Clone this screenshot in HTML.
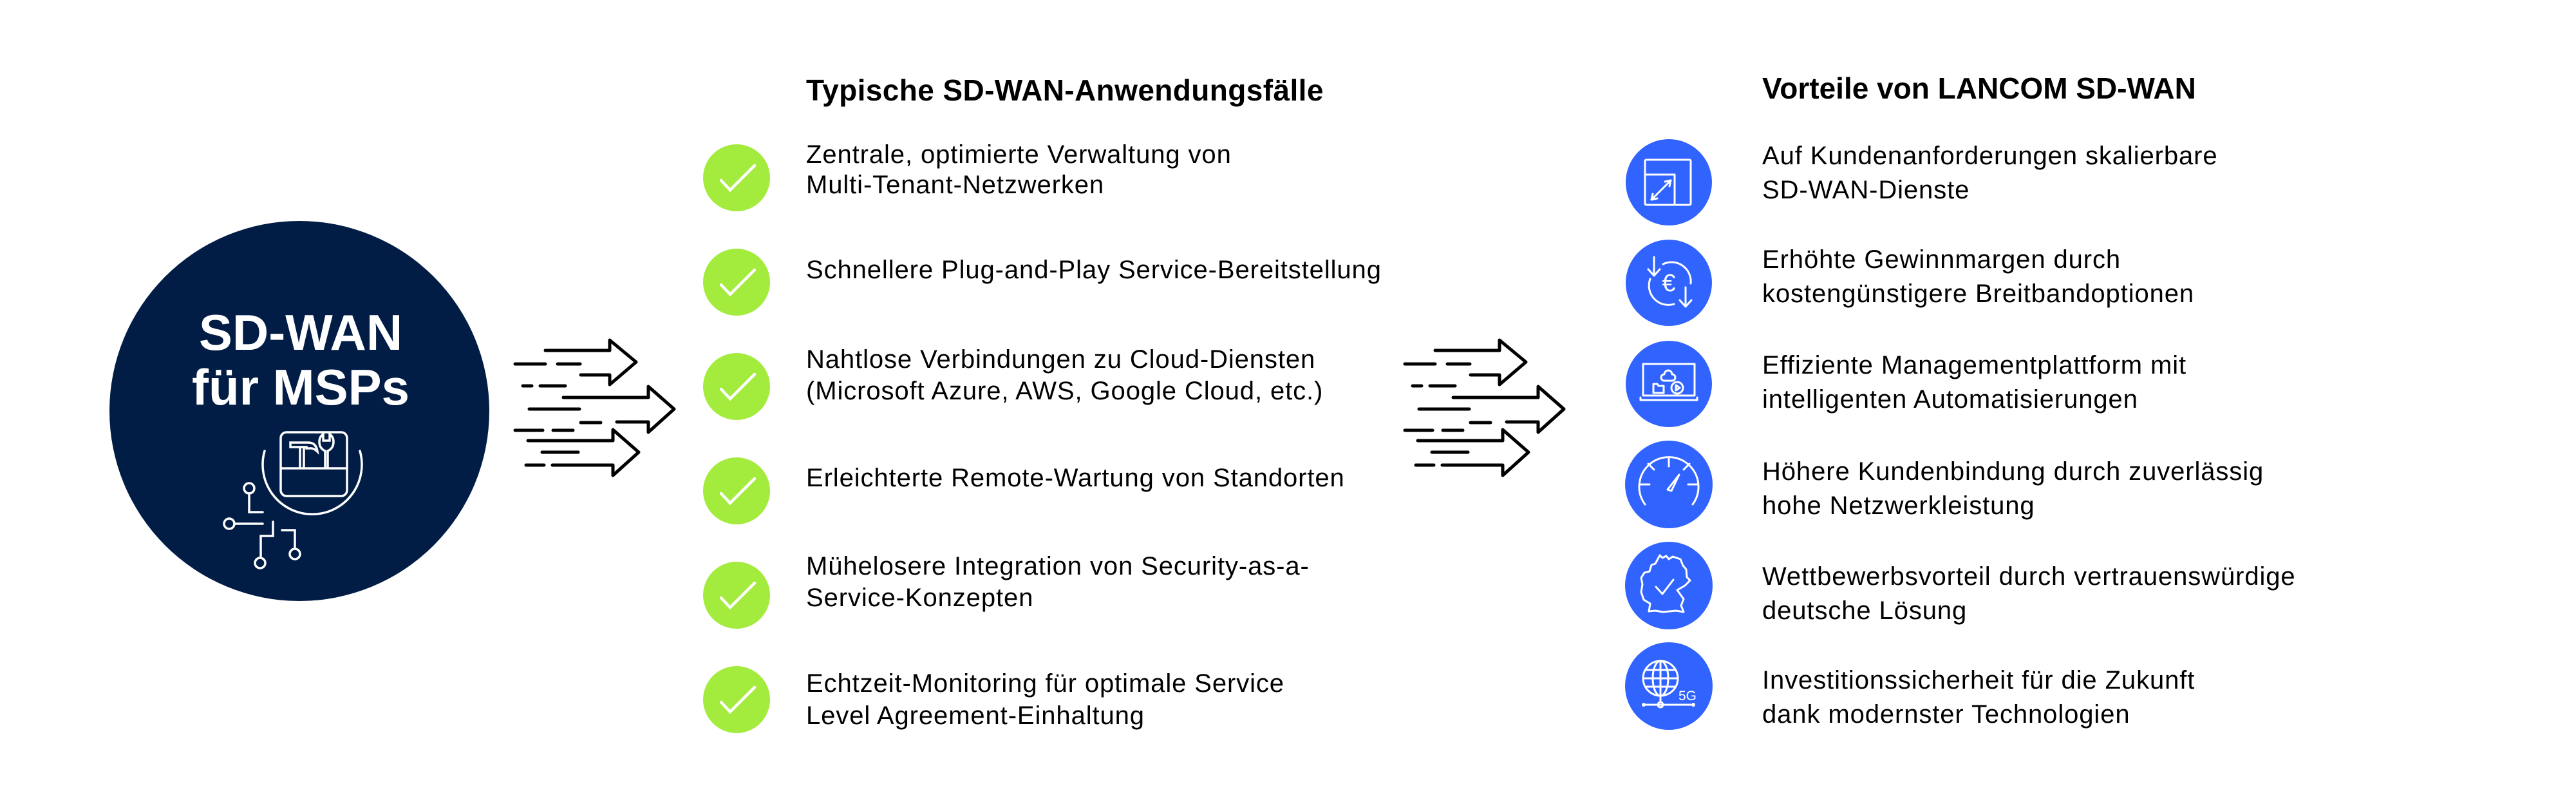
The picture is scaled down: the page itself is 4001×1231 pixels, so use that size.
<!DOCTYPE html>
<html><head><meta charset="utf-8"><style>
html,body{margin:0;padding:0;background:#fff;}
svg{display:block;}
text{font-family:"Liberation Sans",Arial,sans-serif;}
.b{font-size:40px;letter-spacing:0.9px;}
</style></head><body>
<svg width="4001" height="1231" viewBox="0 0 4001 1231" xmlns="http://www.w3.org/2000/svg">
<rect width="4001" height="1231" fill="#fff"/>

<circle cx="465" cy="638" r="295" fill="#021D45"/>
<text x="467" y="543" fill="#fff" font-size="78" font-weight="bold" text-anchor="middle">SD-WAN</text>
<text x="467" y="628" fill="#fff" font-size="78" font-weight="bold" text-anchor="middle">für MSPs</text>
<g stroke="#fff" stroke-width="3.5" fill="none" stroke-linecap="round">
  <rect x="436" y="671" width="103" height="99" rx="9"/>
  <line x1="436" y1="727" x2="539" y2="727"/>
  <path d="M411 700 A77 77 0 1 0 559 700"/>
  <path d="M451 687 h28 q12 0 14 14 q-6 -6 -12 -5 h-5 v-2 h-25 z"/>
  <path d="M466 694 v32 M472 694 v32"/>
  <path d="M505 726 v-26 q-9 -4 -9 -14 q0 -8 6 -12 v10 h10 v-10 q6 4 6 12 q0 10 -9 14 v26"/>
  <circle cx="387" cy="758" r="8"/>
  <path d="M387 766 V795 H408"/>
  <circle cx="356" cy="813" r="8"/>
  <path d="M364 813 H408"/>
  <path d="M424 810 V832 H405 V866"/>
  <circle cx="404" cy="874" r="8"/>
  <path d="M438 823 H458 V852"/>
  <circle cx="458" cy="860" r="8"/>
</g>

<g id="arr" stroke="#000" stroke-width="5" fill="none" stroke-linecap="round" stroke-linejoin="round">
  <path d="M847 544 H947 V528 L988 562 L947 597 V582 H902"/>
  <path d="M800 565 H847 M866 565 H901 M812 599 H826 M839 599 H878"/>
  <path d="M875 617 H1007 V600 L1047 635 L1007 671 V655 H958"/>
  <path d="M822 635 H900 M902 656 H933 M800 668 H843 M859 668 H890"/>
  <path d="M820 684 H952 V667 L992 702 L952 738 V722 H858"/>
  <path d="M842 702 H898 M817 722 H845"/>
</g>
<use href="#arr" transform="translate(1382,0)"/>

<text x="1252" y="156" font-size="46" font-weight="bold" letter-spacing="0.4" fill="#000">Typische SD-WAN-Anwendungsfälle</text>
<g fill="#A3EB3D">
  <circle cx="1144" cy="276" r="52"/><circle cx="1144" cy="438" r="52"/><circle cx="1144" cy="600" r="52"/>
  <circle cx="1144" cy="762" r="52"/><circle cx="1144" cy="924" r="52"/><circle cx="1144" cy="1086" r="52"/>
</g>
<g stroke="#fff" stroke-width="4.5" fill="none" stroke-linecap="round">
  <path d="M1120 280 L1134 295 L1172 257"/>
  <path d="M1120 442 L1134 457 L1172 419"/>
  <path d="M1120 604 L1134 619 L1172 581"/>
  <path d="M1120 766 L1134 781 L1172 743"/>
  <path d="M1120 928 L1134 943 L1172 905"/>
  <path d="M1120 1090 L1134 1105 L1172 1067"/>
</g>
<g class="b" fill="#000">
  <text x="1252" y="253">Zentrale, optimierte Verwaltung von</text>
  <text x="1252" y="300">Multi-Tenant-Netzwerken</text>
  <text x="1252" y="432">Schnellere Plug-and-Play Service-Bereitstellung</text>
  <text x="1252" y="571">Nahtlose Verbindungen zu Cloud-Diensten</text>
  <text x="1252" y="620">(Microsoft Azure, AWS, Google Cloud, etc.)</text>
  <text x="1252" y="755">Erleichterte Remote-Wartung von Standorten</text>
  <text x="1252" y="892">Mühelosere Integration von Security-as-a-</text>
  <text x="1252" y="941">Service-Konzepten</text>
  <text x="1252" y="1074">Echtzeit-Monitoring für optimale Service</text>
  <text x="1252" y="1124">Level Agreement-Einhaltung</text>
</g>

<text x="2737" y="153" font-size="46" font-weight="bold" fill="#000">Vorteile von LANCOM SD-WAN</text>
<g fill="#3163FF">
  <circle cx="2592" cy="283" r="67"/><circle cx="2592" cy="439" r="67"/><circle cx="2592" cy="596" r="67"/>
  <circle cx="2592" cy="752" r="68"/><circle cx="2592" cy="909" r="68"/><circle cx="2592" cy="1065" r="68"/>
</g>
<g stroke="#fff" stroke-width="3" fill="none" stroke-linecap="round" stroke-linejoin="round">
  <rect x="2555" y="248" width="71" height="70" rx="2"/>
  <path d="M2555 271 H2601 V318"/>
  <path d="M2565 310 L2595 280 M2565 310 l2 -9 M2565 310 l9 -2 M2595 280 l-9 2 M2595 280 l-2 9"/>
  <path d="M2583 410 A30 30 0 0 1 2626 440"/>
  <path d="M2600 472 A30 30 0 0 1 2563 433"/>
  <path d="M2569 399 V427 M2560 418 l9 10 l9 -10"/>
  <path d="M2618 446 V475 M2609 466 l9 10 l9 -10"/>
  <rect x="2552" y="565" width="80" height="49"/>
  <path d="M2548 617 V621 H2636 V617"/>
  <path d="M2585 581 a6 6 0 0 1 12 0 a5 5 0 0 1 0 10 h-12 a5 5 0 0 1 0 -10 z"/>
  <path d="M2568 596 h6 l2 3 h8 v11 h-16 z"/>
  <circle cx="2605" cy="602" r="9"/><path d="M2603 598 v8 l6 -4 z"/>
  <path d="M2555 783 A46 46 0 1 1 2629 783"/>
  <path d="M2592 710 v14 M2548 752 h14 M2622 752 h14 M2560 720 l9 9 M2624 720 l-9 9"/>
  <path d="M2590 760 l18 -23 l-12 25 z"/>
  <path d="M2578 862 l4 4 l6 -3 l4 5 l6 -4 l12 4 l4 10 l5 6 l1 12 l5 5 l-8 8 l-12 7 l10 14 l-4 10 l4 10 l-12 -2 l-20 2 l-12 -2 l-10 1 l2 -12 l-10 -6 l-4 -12 l2 -12 l-2 -10 l5 -8 l8 -2 l3 -10 l6 -2 z"/>
  <path d="M2572 911 l10 11 l17 -22"/>
  <circle cx="2579" cy="1053" r="27"/>
  <ellipse cx="2579" cy="1053" rx="12" ry="27"/>
  <path d="M2552 1053 h54 M2556 1040 h46 M2556 1066 h46 M2579 1026 v54"/>
  <path d="M2579 1080 v10 M2555 1094 h71"/>
  <circle cx="2579" cy="1094" r="4"/>
</g>
<g fill="#fff">
  <text x="2592" y="452" font-size="38" text-anchor="middle">€</text>
  <text x="2607" y="1087" font-size="21">5G</text>
  <circle cx="2553" cy="1094" r="3"/><circle cx="2630" cy="1094" r="3"/>
</g>
<g class="b" fill="#000">
  <text x="2737" y="255">Auf Kundenanforderungen skalierbare</text>
  <text x="2737" y="308">SD-WAN-Dienste</text>
  <text x="2737" y="416">Erhöhte Gewinnmargen durch</text>
  <text x="2737" y="469">kostengünstigere Breitbandoptionen</text>
  <text x="2737" y="580">Effiziente Managementplattform mit</text>
  <text x="2737" y="633">intelligenten Automatisierungen</text>
  <text x="2737" y="745">Höhere Kundenbindung durch zuverlässig</text>
  <text x="2737" y="798">hohe Netzwerkleistung</text>
  <text x="2737" y="908">Wettbewerbsvorteil durch vertrauenswürdige</text>
  <text x="2737" y="961">deutsche Lösung</text>
  <text x="2737" y="1069">Investitionssicherheit für die Zukunft</text>
  <text x="2737" y="1122">dank modernster Technologien</text>
</g>
</svg>
</body></html>
